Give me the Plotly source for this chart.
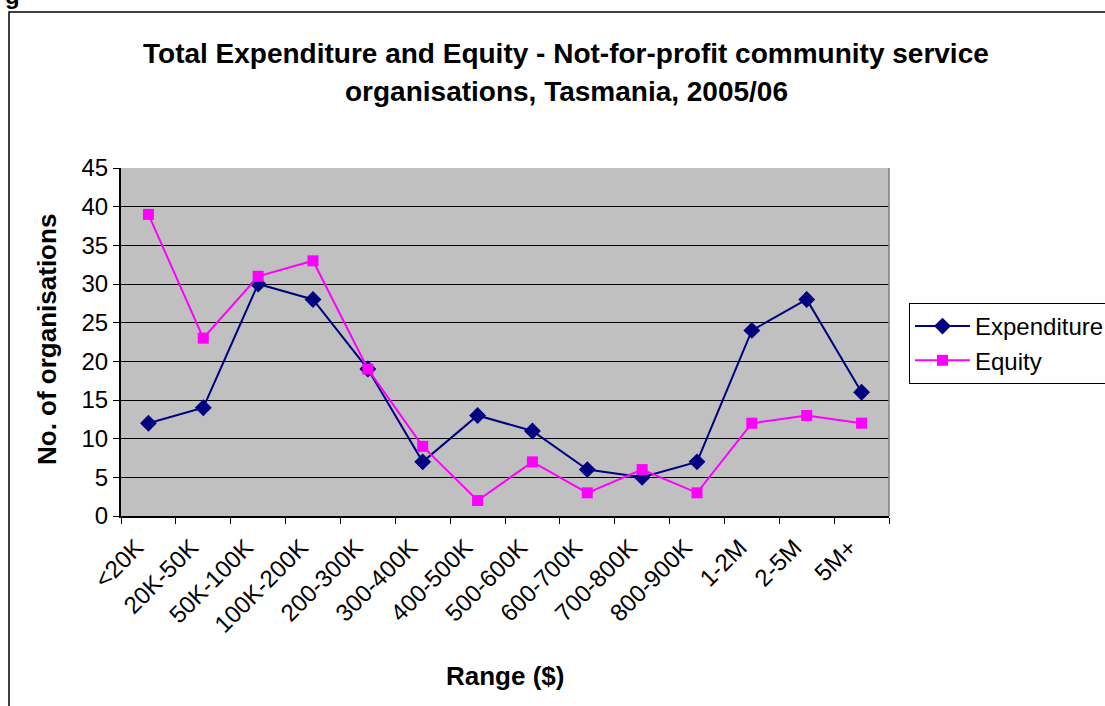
import plotly.graph_objects as go

categories = ["<20K", "20K-50K", "50K-100K", "100K-200K", "200-300K", "300-400K",
              "400-500K", "500-600K", "600-700K", "700-800K", "800-900K",
              "1-2M", "2-5M", "5M+"]
expenditure = [12, 14, 30, 28, 19, 7, 13, 11, 6, 5, 7, 24, 28, 16]
equity = [39, 23, 31, 33, 19, 9, 2, 7, 3, 6, 3, 12, 13, 12]
y_ticks = [0, 5, 10, 15, 20, 25, 30, 35, 40, 45]

W, H = 1105, 706
L, R, T, B = 121, 889, 168, 516

FONT = "Liberation Sans, Arial, sans-serif"

fig = go.Figure()
fig.add_trace(go.Scatter(
    x=categories, y=expenditure, name="Expenditure", mode="lines+markers",
    line=dict(color="#000080", width=2),
    marker=dict(symbol="diamond", size=13, color="#000080"),
))
fig.add_trace(go.Scatter(
    x=categories, y=equity, name="Equity", mode="lines+markers",
    line=dict(color="#FF00FF", width=2),
    marker=dict(symbol="square", size=11, color="#FF00FF"),
))

def px_x(p):
    return (p - L) / (R - L)

def px_y(p):
    return (B - p) / (B - T)

fig.update_layout(
    width=W, height=H,
    margin=dict(l=L, r=W - R, t=T, b=H - B, pad=0, autoexpand=False),
    paper_bgcolor="white",
    plot_bgcolor="#C0C0C0",
    font=dict(family=FONT, size=24, color="black"),
    xaxis=dict(
        type="category", range=[-0.5, len(categories) - 0.5],
        tickmode="array", tickvals=categories, ticktext=categories,
        tickangle=-45, ticks="outside", ticklen=6, tickcolor="black",
        tickson="boundaries", automargin=False,
        ticklabelshift=-12, ticklabelstandoff=6,
        showline=True, linecolor="black", linewidth=2, mirror=False,
        showgrid=False, zeroline=False,
        tickfont=dict(family=FONT, size=24, color="black"),
    ),
    yaxis=dict(
        range=[0, 45], tickmode="array", tickvals=y_ticks,
        ticks="outside", ticklen=6, tickcolor="black", automargin=False,
        showline=True, linecolor="black", linewidth=2,
        showgrid=True, gridcolor="black", gridwidth=1, zeroline=False,
        tickfont=dict(family=FONT, size=24, color="black"),
    ),
    legend=dict(
        x=px_x(909), y=px_y(303), xanchor="left", yanchor="top",
        bgcolor="white", bordercolor="black", borderwidth=1,
        font=dict(family=FONT, size=24, color="black"),
        tracegroupgap=0, itemwidth=55,
    ),
    showlegend=True,
)

# title lines
fig.add_annotation(text="<b>Total Expenditure and Equity - Not-for-profit community service</b>",
                   xref="paper", yref="paper", x=px_x(566), y=px_y(53),
                   xanchor="center", yanchor="middle", showarrow=False,
                   font=dict(family=FONT, size=28, color="black"))
fig.add_annotation(text="<b>organisations, Tasmania, 2005/06</b>",
                   xref="paper", yref="paper", x=px_x(566), y=px_y(92),
                   xanchor="center", yanchor="middle", showarrow=False,
                   font=dict(family=FONT, size=28, color="black"))
# axis titles
fig.add_annotation(text="<b>No. of organisations</b>", textangle=-90,
                   xref="paper", yref="paper", x=px_x(47), y=px_y(340),
                   xanchor="center", yanchor="middle", showarrow=False,
                   font=dict(family=FONT, size=26, color="black"))
fig.add_annotation(text="<b>Range ($)</b>",
                   xref="paper", yref="paper", x=px_x(505), y=px_y(676),
                   xanchor="center", yanchor="middle", showarrow=False,
                   font=dict(family=FONT, size=26, color="black"))

# right border of plot area (gray)
fig.add_shape(type="line", xref="paper", yref="paper",
              x0=1, x1=1, y0=0, y1=1, line=dict(color="#808080", width=1.5))
# outer chart frame (left and top edges visible)
fig.add_shape(type="rect", xref="paper", yref="paper",
              x0=px_x(9), x1=px_x(1130), y0=px_y(730), y1=px_y(12),
              line=dict(color="black", width=1.5), layer="below")
# partially visible text at top-left
fig.add_annotation(text="<b>g</b>", xref="paper", yref="paper",
                   x=px_x(3), y=px_y(11), xanchor="left", yanchor="bottom",
                   showarrow=False, font=dict(family=FONT, size=24, color="black"))

fig.write_html("out.html")
